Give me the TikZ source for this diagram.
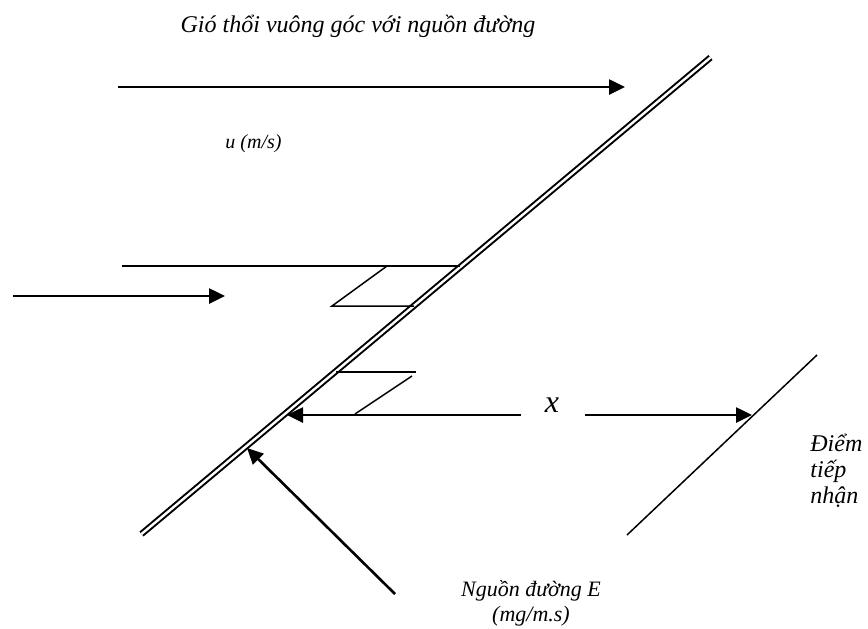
\documentclass[tikz,border=0pt]{standalone}
\usepackage{fontspec}
\setmainfont{Liberation Serif}
\usetikzlibrary{arrows.meta}
\tikzset{
  windarrow/.style={-{Triangle[length=8pt,width=7.5pt]}, line width=1.3pt},
  thinline/.style={line width=0.75pt},
  srcline/.style={line width=1pt, double, double distance=1.2pt},
  lbl/.style={font=\itshape, inner sep=0pt},
}
\begin{document}
\begin{tikzpicture}[x=0.5pt, y=-0.5pt]
  \useasboundingbox (0,0) rectangle (868,628);
  % Line source
  \coordinate (src1) at (141.5,534);
  \coordinate (src2) at (710.5,57.5);
  \draw[srcline] (src1) -- (src2);
  % Receptor line
  \coordinate (rcv1) at (627,535);
  \coordinate (rcv2) at (817,355);
  \draw[thinline] (rcv1) -- (rcv2);
  % Wind arrows
  \coordinate (w1a) at (118,87);
  \coordinate (w1b) at (625,87);
  \draw[windarrow] (w1a) -- (w1b);
  \coordinate (w2a) at (13,296);
  \coordinate (w2b) at (225,296);
  \draw[windarrow] (w2a) -- (w2b);
  % Upper plume sketch
  \coordinate (p1) at (122,266);
  \coordinate (p2) at (460,266);
  \coordinate (p3) at (387,266);
  \coordinate (p4) at (332,306);
  \coordinate (p5) at (414,306);
  \draw[thinline] (p1) -- (p2);
  \draw[thinline] (p3) -- (p4) -- (p5);
  % Lower plume sketch
  \coordinate (q1) at (336,372);
  \coordinate (q2) at (416,372);
  \coordinate (q3) at (412,376);
  \coordinate (q4) at (355,414);
  \draw[thinline] (q1) -- (q2);
  \draw[thinline] (q3) -- (q4);
  % Distance x
  \node[lbl, font=\fontsize{16}{18}\selectfont\itshape, anchor=base] (xlbl) at (552,412) {x};
  \coordinate (xl) at (521,415);
  \coordinate (xr) at (585,415);
  \coordinate (xsrc) at (287,415);
  \coordinate (xrcv) at (752,415);
  \draw[windarrow] (xl) -- (xsrc);
  \draw[windarrow] (xr) -- (xrcv);
  % Emission arrow
  \coordinate (ea) at (395,594);
  \coordinate (eb) at (247,448);
  \draw[windarrow] (ea) -- (eb);
  % Labels
  \node[lbl, font=\fontsize{12}{14}\selectfont\itshape, anchor=base] (title) at (358,32) {Gió thổi vuông góc với nguồn đường};
  \node[lbl, font=\fontsize{10}{12}\selectfont\itshape, anchor=base west] (speed) at (225,148) {u (m/s)};
  \node[lbl, font=\fontsize{12}{13}\selectfont\itshape, anchor=north west, align=left] (rcv) at (810,434) {Điểm\\tiếp\\nhận};
  \node[lbl, font=\fontsize{11}{12.5}\selectfont\itshape, anchor=north, align=center] (src) at (531,580) {Nguồn đường E\\(mg/m.s)};
\end{tikzpicture}
\end{document}
